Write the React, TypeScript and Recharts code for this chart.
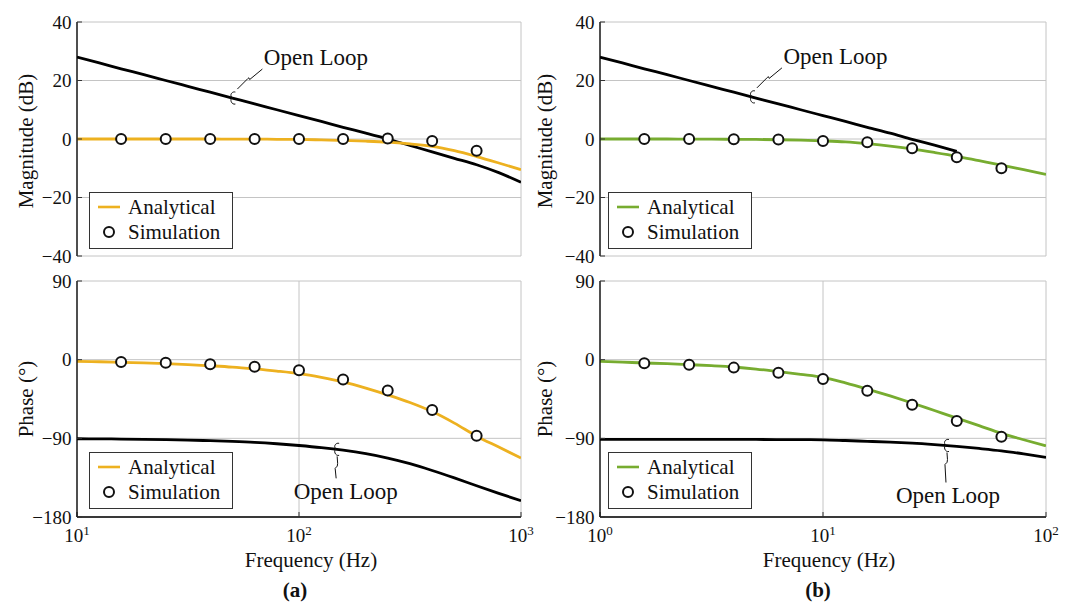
import React from 'react';
import { ComposedChart, Line, Scatter, XAxis, YAxis, CartesianGrid, Legend, ReferenceDot } from 'recharts';

const FONT = '"Liberation Serif", "DejaVu Serif", serif';
const ORANGE = '#EDB120';
const GREEN = '#77AC30';

// (a) 10 Hz .. 1 kHz
const freqA = [10, 12.6, 15.8, 20, 25.1, 31.6, 39.8, 50.1, 63.1, 79.4, 100, 126, 158, 200, 251, 316, 398, 501, 631, 794, 1000];
const magAnalyticalA = [0, 0, 0, 0, 0, 0, 0, -0.05, -0.05, -0.1, -0.15, -0.3, -0.5, -0.75, -1.1, -1.7, -2.5, -4.0, -6.0, -8.2, -10.5];
const magOpenLoopA = [28, 26, 24, 22, 20, 18, 16, 14, 12, 10, 8, 6, 4, 2, 0, -2.2, -4.4, -6.6, -8.8, -11.5, -14.8];
const phaseAnalyticalA = [-1.9, -2.4, -3.0, -3.7, -4.6, -5.7, -7.0, -8.5, -10.6, -13.0, -15.9, -20.2, -25.4, -32.5, -40.3, -49.0, -59.4, -72.6, -87.5, -100.0, -112.5];
const phaseOpenLoopA = [-90.5, -90.6, -90.8, -91.1, -91.5, -92.0, -92.7, -93.5, -94.6, -96.2, -98.2, -100.6, -103.6, -107.6, -112.6, -119.0, -126.8, -135.3, -144.3, -153.0, -161.3];
const simFreqA = [15.8, 25.1, 39.8, 63.1, 100, 158, 251, 398, 631];
const simMagA = [0, 0, 0, 0, 0, 0, 0.2, -0.7, -4.0];
const simPhaseA = [-2.6, -3.4, -5.3, -8.0, -12.1, -22.7, -35.2, -57.5, -87.0];

// (b) 1 Hz .. 100 Hz
const freqB = [1, 1.26, 1.58, 2, 2.51, 3.16, 3.98, 5.01, 6.31, 7.94, 10, 12.6, 15.8, 20, 25.1, 31.6, 39.8, 50.1, 63.1, 79.4, 100];
const magAnalyticalB = [0, 0, 0, 0, -0.05, -0.05, -0.1, -0.15, -0.25, -0.4, -0.65, -1.0, -1.6, -2.4, -3.4, -4.6, -5.9, -7.4, -8.9, -10.5, -12.1];
const magOpenLoopB = [28, 26, 24, 22, 20, 18, 16, 14, 12, 10, 8, 6, 4, 2, -0.1, -2.1, -4.2];
const phaseAnalyticalB = [-1.9, -2.8, -3.8, -4.6, -5.7, -6.9, -8.4, -10.7, -13.7, -16.8, -20.2, -26.5, -33.6, -41.5, -49.6, -58.2, -66.8, -75.5, -84.3, -91.6, -98.5];
const phaseOpenLoopB = [-91.2, -91.2, -91.2, -91.2, -91.2, -91.2, -91.3, -91.3, -91.4, -91.5, -91.7, -92.5, -93.4, -94.3, -95.5, -97.2, -99.2, -101.6, -104.3, -107.8, -111.8];
const simFreqB = [1.58, 2.51, 3.98, 6.31, 10, 15.8, 25.1, 39.8, 63.1];
const simMagB = [0, 0, -0.05, -0.2, -0.7, -1.1, -3.2, -6.2, -10.0];
const simPhaseB = [-4.1, -5.7, -9.1, -14.9, -22.1, -35.5, -51.5, -70.2, -88.2];

const freqTicksA = [10, 100, 1000];
const freqTicksB = [1, 10, 100];
const magTicks = [-40, -20, 0, 20, 40];
const phaseTicks = [-180, -90, 0, 90];

// where the "Open Loop" pointers touch the curves
const noteMagA = { f: 50.1, v: 14 };
const notePhaseA = { f: 147, v: -102.6 };
const noteMagB = { f: 4.8, v: 14.4 };
const notePhaseB = { f: 35.6, v: -98.2 };

const rows = (fs: number[], vs: number[]) => vs.map((v, i) => ({ f: fs[i], v }));
const fmtY = (v: number) => (v < 0 ? `\u2212${-v}` : `${v}`);

const PowTick = (props: any) => {
  const { x, y, payload } = props;
  const exp = Math.round(Math.log10(payload.value));
  return (
    <text x={x} y={y} dy="0.71em" textAnchor="middle" fontSize={19} fill="#111" fontFamily={FONT}>
      <tspan>10</tspan>
      <tspan dy={-7} fontSize={13}>{exp}</tspan>
    </text>
  );
};

const SimDot = (props: any) => (
  <circle cx={props.cx} cy={props.cy} r={5} fill="#fff" stroke="#111" strokeWidth={2} />
);

const LegendBox = (props: any) => {
  const items = (props.payload || []).filter((p: any) => p.type !== 'none');
  return (
    <svg width={144} height={57} style={{ display: 'block' }}>
      <rect x={0.5} y={0.5} width={143} height={56} fill="#fff" stroke="#333" strokeWidth={1} />
      {items.map((it: any, i: number) => {
        const cy = 15 + i * 25;
        return (
          <g key={i}>
            {it.type === 'line' ? (
              <line x1={9} x2={31} y1={cy} y2={cy} stroke={props.color} strokeWidth={2.6} />
            ) : (
              <circle cx={20} cy={cy} r={5} fill="#fff" stroke="#111" strokeWidth={2} />
            )}
            <text x={39} y={cy + 6.5} fontSize={21} fontFamily={FONT} fill="#111">{it.value}</text>
          </g>
        );
      })}
    </svg>
  );
};

const Loop = () => (
  <path d="M3,-6 C-1,-7 -3,-2 0,-0.5 C-3,1 -1,7 3,6" fill="none" stroke="#111" strokeWidth={1} />
);

const NoteUp = (props: any) => (
  <g transform={`translate(${props.cx},${props.cy})`}>
    <Loop />
    <path d="M5,-9 L15.5,-19.5 Q16.5,-21.5 17.3,-18.5 L30,-29" fill="none" stroke="#111" strokeWidth={1} />
    <text x={31.5} y={-33} fontSize={23} fill="#111" fontFamily={FONT}>Open Loop</text>
  </g>
);

const NoteDown = (props: any) => (
  <g transform={`translate(${props.cx},${props.cy})`}>
    <Loop />
    <path d={`M1,7 L1.5,14 Q2,17 -1,19 L0,${props.len}`} fill="none" stroke="#111" strokeWidth={1} />
    <text x={props.tx} y={props.ty} textAnchor="middle" fontSize={23} fill="#111" fontFamily={FONT}>Open Loop</text>
  </g>
);

type PanelProps = {
  left: number; top: number; height: number; margin: any;
  xDomain: number[]; xTicks: number[]; yDomain: number[]; yTicks: number[];
  ol: any[]; an: any[]; sim: any[]; color: string; showX: boolean;
  note: { f: number; v: number }; noteShape: (p: any) => any;
  legendLeft: number; legendTop: number;
};

const axisLine = { stroke: '#000', strokeWidth: 1.3 };
const tickLine = { stroke: '#333', strokeWidth: 1 };

function Panel(p: PanelProps) {
  return (
    <div style={{ position: 'absolute', left: p.left, top: p.top, fontFamily: FONT }}>
      <ComposedChart width={540} height={p.height} margin={p.margin}>
        <CartesianGrid stroke="#c4c4c4" strokeWidth={1} />
        <XAxis xAxisId={0} dataKey="f" type="number" scale="log" domain={p.xDomain} ticks={p.xTicks}
          interval={0} allowDataOverflow height={p.showX ? 40 : 0} axisLine={axisLine} tickLine={tickLine}
          tickSize={-5} tickMargin={16.5} tick={p.showX ? <PowTick /> : false} />
        <XAxis xAxisId="top" orientation="top" dataKey="f" type="number" scale="log" domain={p.xDomain}
          ticks={p.xTicks} interval={0} allowDataOverflow height={0} axisLine={axisLine} tickLine={tickLine}
          tickSize={-5} tick={false} />
        <YAxis yAxisId={0} type="number" domain={p.yDomain} ticks={p.yTicks} interval={0} allowDataOverflow
          width={77} axisLine={axisLine} tickLine={tickLine} tickSize={-5} tickMargin={10.5}
          tick={{ fontSize: 19, fill: '#111', fontFamily: FONT }} tickFormatter={fmtY} />
        <YAxis yAxisId="right" orientation="right" type="number" domain={p.yDomain} ticks={p.yTicks}
          interval={0} allowDataOverflow width={0} axisLine={axisLine} tickLine={tickLine} tickSize={-5} tick={false} />
        <Line data={p.ol} dataKey="v" name="Open Loop" type="monotone" stroke="#000" strokeWidth={2.8}
          dot={false} legendType="none" isAnimationActive={false} />
        <Line data={p.an} dataKey="v" name="Analytical" type="monotone" stroke={p.color} strokeWidth={2.8}
          dot={false} legendType="line" isAnimationActive={false} />
        <Scatter data={p.sim} dataKey="v" name="Simulation" legendType="circle" shape={SimDot}
          isAnimationActive={false} />
        <ReferenceDot x={p.note.f} y={p.note.v} r={0} ifOverflow="visible" shape={p.noteShape} />
        <Legend layout="horizontal" verticalAlign="middle" align="center"
          wrapperStyle={{ left: p.legendLeft, top: p.legendTop, width: 144, height: 57 }}
          content={<LegendBox color={p.color} />} />
      </ComposedChart>
    </div>
  );
}

export default function App() {
  const topMargin = { top: 22, right: 19, bottom: 14, left: 0 };
  const botMargin = { top: 11, right: 19, bottom: 13, left: 0 };
  const topMarginB = { top: 22, right: 17, bottom: 14, left: 0 };
  const botMarginB = { top: 11, right: 17, bottom: 13, left: 0 };
  return (
    <div style={{ position: 'absolute', left: 0, top: 0, width: 1075, height: 603, background: '#fff', fontFamily: FONT }}>
      <Panel left={0} top={0} height={270} margin={topMargin} xDomain={[10, 1000]} xTicks={freqTicksA}
        yDomain={[-40, 40]} yTicks={magTicks} ol={rows(freqA, magOpenLoopA)} an={rows(freqA, magAnalyticalA)}
        sim={rows(simFreqA, simMagA)} color={ORANGE} showX={false} note={noteMagA}
        noteShape={(s: any) => <NoteUp cx={s.cx} cy={s.cy} />} legendLeft={89} legendTop={192} />
      <Panel left={0} top={270} height={300} margin={botMargin} xDomain={[10, 1000]} xTicks={freqTicksA}
        yDomain={[-180, 90]} yTicks={phaseTicks} ol={rows(freqA, phaseOpenLoopA)} an={rows(freqA, phaseAnalyticalA)}
        sim={rows(simFreqA, simPhaseA)} color={ORANGE} showX={true} note={notePhaseA}
        noteShape={(s: any) => <NoteDown cx={s.cx} cy={s.cy} len={29} tx={9.6} ty={50} />} legendLeft={89} legendTop={182} />
      <Panel left={523} top={0} height={270} margin={topMarginB} xDomain={[1, 100]} xTicks={freqTicksB}
        yDomain={[-40, 40]} yTicks={magTicks} ol={rows(freqB, magOpenLoopB)} an={rows(freqB, magAnalyticalB)}
        sim={rows(simFreqB, simMagB)} color={GREEN} showX={false} note={noteMagB}
        noteShape={(s: any) => <NoteUp cx={s.cx} cy={s.cy} />} legendLeft={85} legendTop={192} />
      <Panel left={523} top={270} height={300} margin={botMarginB} xDomain={[1, 100]} xTicks={freqTicksB}
        yDomain={[-180, 90]} yTicks={phaseTicks} ol={rows(freqB, phaseOpenLoopB)} an={rows(freqB, phaseAnalyticalB)}
        sim={rows(simFreqB, simPhaseB)} color={GREEN} showX={true} note={notePhaseB}
        noteShape={(s: any) => <NoteDown cx={s.cx} cy={s.cy} len={37} tx={2} ty={57} />} legendLeft={85} legendTop={182} />
      <svg width={1075} height={603} style={{ position: 'absolute', left: 0, top: 0, pointerEvents: 'none' }}>
        <g fontSize={21} fill="#111" fontFamily={FONT} textAnchor="middle" style={{ whiteSpace: 'pre' }}>
          <text transform="translate(32.5,141) rotate(-90)">Magnitude (dB)</text>
          <text transform="translate(32.5,399) rotate(-90)">Phase (°)</text>
          <text transform="translate(551.5,141) rotate(-90)">Magnitude (dB)</text>
          <text transform="translate(551.5,399) rotate(-90)">Phase (°)</text>
          <text x={311} y={567}>Frequency  (Hz)</text>
          <text x={829} y={567}>Frequency  (Hz)</text>
          <text x={295} y={597} fontWeight="bold">(a)</text>
          <text x={818} y={597} fontWeight="bold">(b)</text>
        </g>
      </svg>
    </div>
  );
}
